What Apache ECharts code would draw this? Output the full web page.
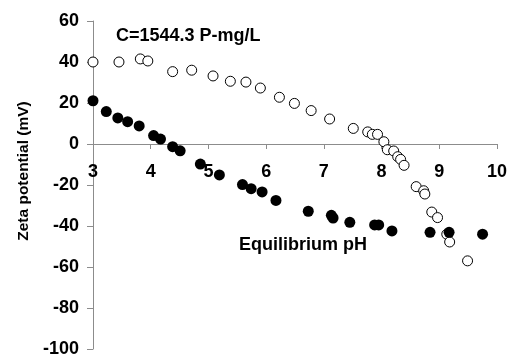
<!DOCTYPE html>
<html>
<head>
<meta charset="utf-8">
<script src="https://cdn.jsdelivr.net/npm/echarts@6/dist/echarts.min.js"></script>
<style>
  html, body { margin: 0; padding: 0; background: #fff; }
  #chart { width: 510px; height: 358px; }
</style>
</head>
<body>
<div id="chart"></div>
<script>
// open circles
var openPH = [3.0, 3.45, 3.82, 3.95, 4.38, 4.71, 5.08, 5.38, 5.65, 5.9, 6.23, 6.49, 6.78, 7.1, 7.51, 7.76, 7.84, 7.93, 8.04, 8.1, 8.21, 8.28, 8.33, 8.39, 8.6, 8.73, 8.75, 8.87, 8.97, 9.13, 9.18, 9.49];
var openZeta = [40, 40, 41.5, 40.5, 35.3, 36, 33.2, 30.6, 30.2, 27.3, 22.8, 19.8, 16.3, 12.2, 7.6, 5.9, 4.7, 4.7, 1.1, -2.8, -3.4, -6.2, -7.5, -10.4, -20.8, -22.8, -24.4, -33.2, -35.9, -44, -47.8, -57];

// filled circles
var fillPH = [3.0, 3.23, 3.43, 3.6, 3.8, 4.05, 4.17, 4.38, 4.51, 4.86, 5.19, 5.59, 5.74, 5.93, 6.17, 6.73, 7.13, 7.16, 7.45, 7.88, 7.95, 8.18, 8.84, 9.17, 9.75];
var fillZeta = [21.1, 15.8, 12.7, 10.9, 8.8, 4.1, 2.4, -1.3, -3.3, -9.8, -15.1, -19.8, -21.8, -23.4, -27.5, -32.8, -34.8, -36.1, -38.2, -39.5, -39.5, -42.4, -43.1, -43.1, -44];

var xTicks = [3, 4, 5, 6, 7, 8, 9, 10];
var yTicks = [-100, -80, -60, -40, -20, 0, 20, 40, 60];

function pairs(xs, ys) {
  return xs.map(function (x, i) { return [x, ys[i]]; });
}

var chart = echarts.init(document.getElementById('chart'));
var font = 'Liberation Sans, Arial, sans-serif';

// plot box and where y = 0 falls in it, so the x axis can sit on zero
var gridTop = 21, gridBottom = 9, H = 358;
var plotH = H - gridTop - gridBottom;
var yMin = yTicks[0], yMax = yTicks[yTicks.length - 1];
var zeroOffset = plotH * (0 - yMin) / (yMax - yMin);

var option = {
  animation: false,
  grid: { left: 93, right: 11, top: gridTop, bottom: gridBottom },
  xAxis: {
    type: 'value',
    min: xTicks[0], max: xTicks[xTicks.length - 1], interval: 1,
    offset: -zeroOffset,
    axisLine: { onZero: false, lineStyle: { color: '#8c8c8c', width: 1 } },
    axisTick: { show: true, length: 5, lineStyle: { color: '#8c8c8c' } },
    axisLabel: { margin: 19, color: '#000', fontFamily: font, fontWeight: 'bold', fontSize: 18 },
    splitLine: { show: false }
  },
  yAxis: {
    type: 'value',
    min: yMin, max: yMax, interval: 20,
    axisLine: { show: true, onZero: false, lineStyle: { color: '#8c8c8c', width: 1 } },
    axisTick: { show: true, length: 6, lineStyle: { color: '#8c8c8c' } },
    axisLabel: { margin: 14, color: '#000', fontFamily: font, fontWeight: 'bold', fontSize: 18 },
    splitLine: { show: false }
  },
  graphic: [
    {
      type: 'text', left: 116, top: 27,
      style: { text: 'C=1544.3 P-mg/L', font: 'bold 18px ' + font, fill: '#000' }
    },
    {
      type: 'text', left: 239, top: 236,
      style: { text: 'Equilibrium pH', font: 'bold 18px ' + font, fill: '#000' }
    },
    {
      type: 'text', x: 24, y: 171, rotation: Math.PI / 2,
      style: { text: 'Zeta potential (mV)', font: 'bold 15.5px ' + font, fill: '#000', align: 'center', verticalAlign: 'middle' }
    }
  ],
  series: [
    {
      type: 'scatter',
      data: pairs(openPH, openZeta),
      symbol: 'circle', symbolSize: 10,
      itemStyle: { color: '#fff', borderColor: '#000', borderWidth: 1, opacity: 1 }
    },
    {
      type: 'scatter',
      data: pairs(fillPH, fillZeta),
      symbol: 'circle', symbolSize: 11,
      itemStyle: { color: '#000', opacity: 1 }
    }
  ]
};

chart.setOption(option);
</script>
</body>
</html>
